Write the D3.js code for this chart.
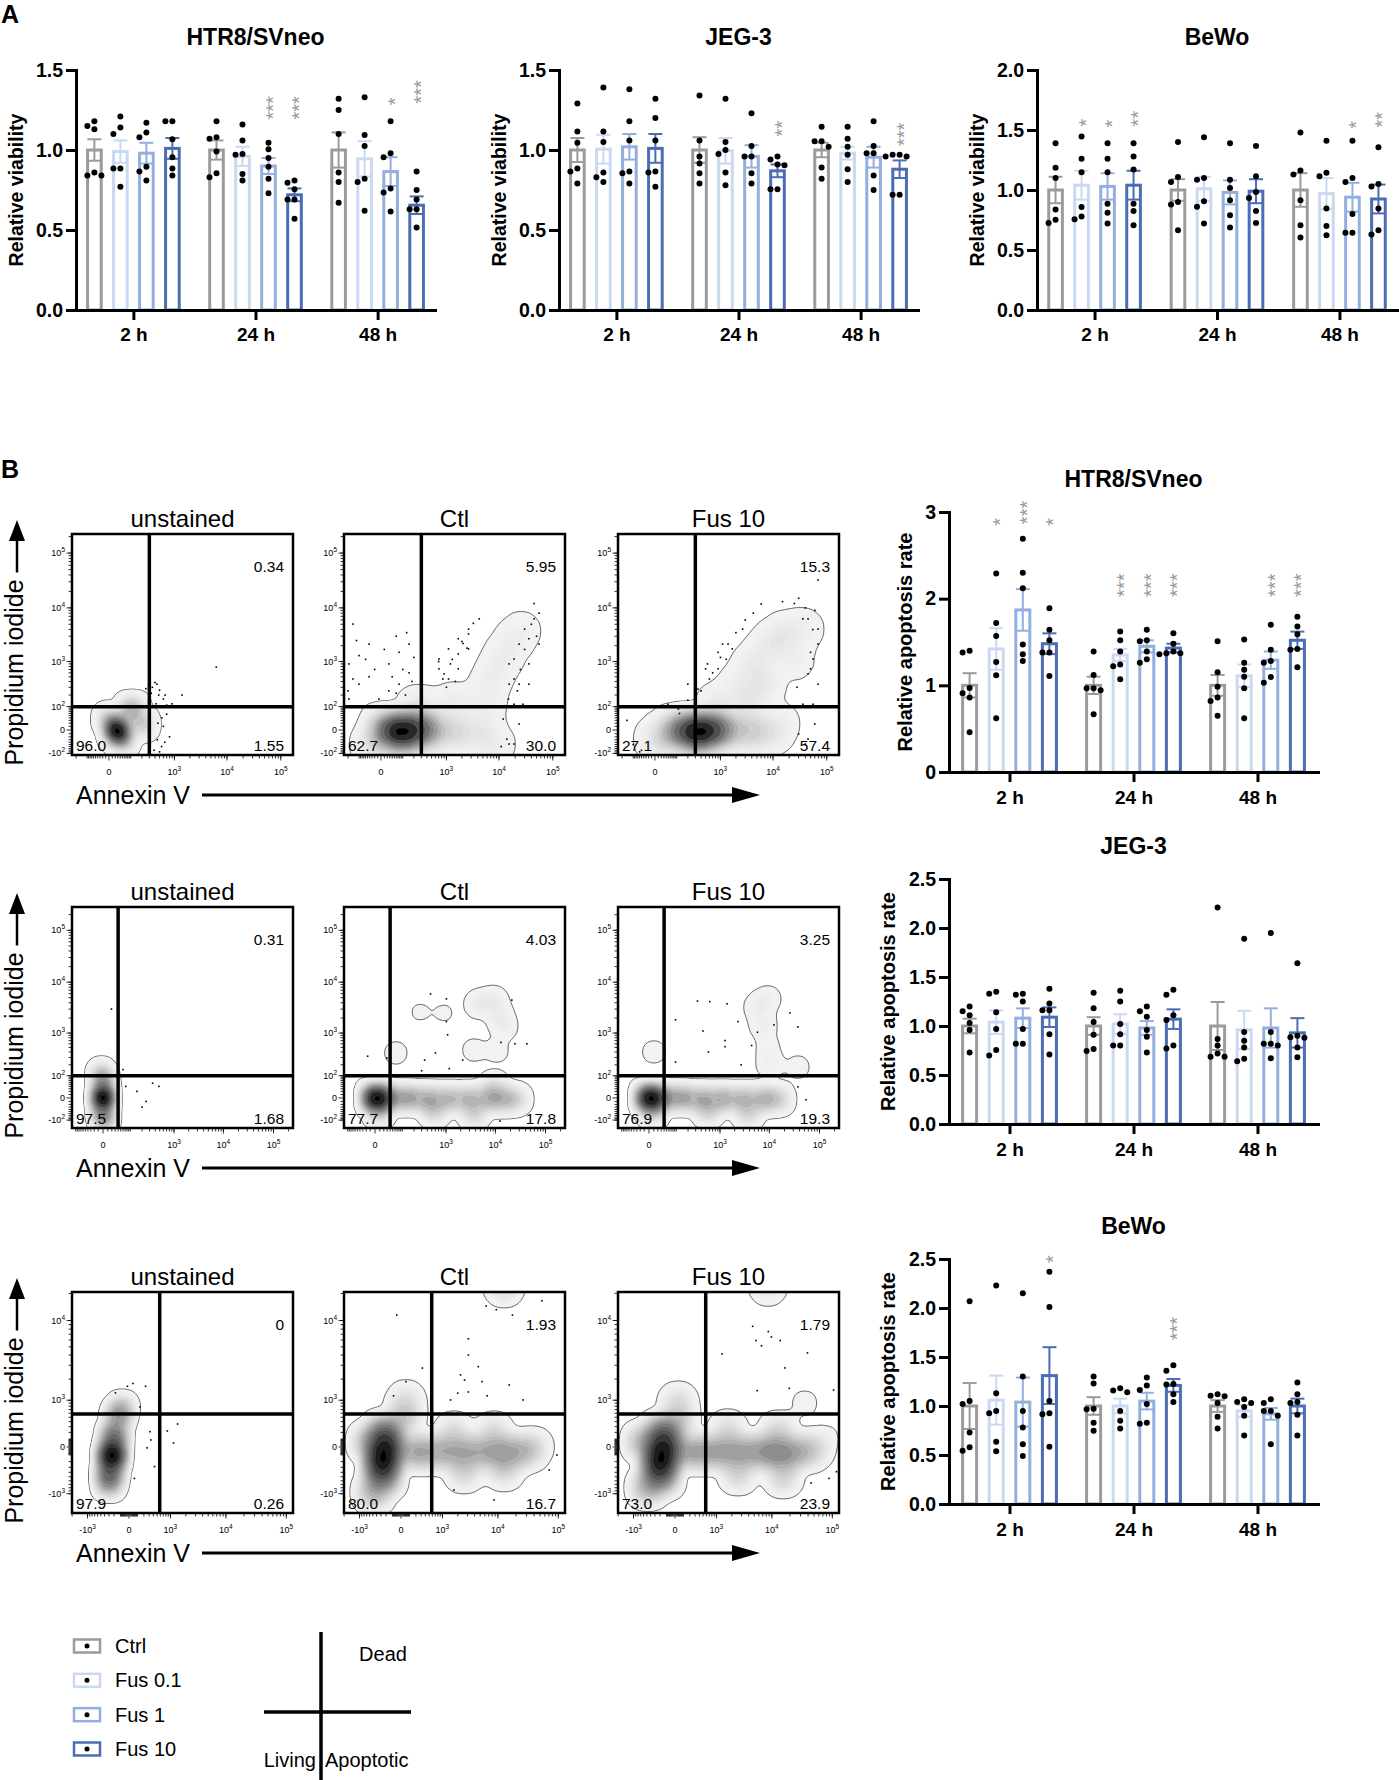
<!DOCTYPE html>
<html>
<head>
<meta charset="utf-8">
<script src="https://cdn.jsdelivr.net/npm/d3@7"></script>
<style>
  body { margin: 0; background: #fff; }
  svg { display: block; }
</style>
</head>
<body>
<svg id="fig" width="1399" height="1780"></svg>
<script>
'use strict';

// ---------- shared categories ----------
const times = ['2 h', '24 h', '48 h'];
const groups = ['Ctrl', 'Fus 0.1', 'Fus 1', 'Fus 10'];

// ---------- A: relative viability ----------
const viaHtr8Mean = [[1.00, 0.99, 0.98, 1.01], [1.00, 0.96, 0.90, 0.72], [1.00, 0.945, 0.865, 0.655]];
const viaHtr8Sem = [[0.067, 0.07, 0.065, 0.065], [0.06, 0.06, 0.05, 0.04], [0.11, 0.11, 0.09, 0.055]];
const viaHtr8Dots = [
  [[1.15, 1.18, 1.13, 0.86, 0.84, 0.84], [1.21, 1.14, 1.10, 0.885, 0.885, 0.77], [1.17, 1.11, 1.08, 0.895, 0.865, 0.81], [1.18, 1.18, 1.067, 0.955, 0.885, 0.84]],
  [[1.18, 1.08, 1.07, 0.99, 0.855, 0.83], [1.16, 1.06, 0.97, 0.975, 0.85, 0.81], [1.045, 1.005, 0.95, 0.895, 0.82, 0.73], [0.81, 0.795, 0.755, 0.69, 0.69, 0.57]],
  [[1.32, 1.25, 1.10, 0.86, 0.80, 0.67], [1.33, 1.094, 1.025, 0.82, 0.80, 0.62], [1.18, 0.98, 0.955, 0.76, 0.735, 0.615], [0.865, 0.75, 0.69, 0.63, 0.63, 0.515]]
];
const viaHtr8Sig = [['24 h', 'Fus 1', '***', 1.19], ['24 h', 'Fus 10', '***', 1.19], ['48 h', 'Fus 1', '*', 1.28], ['48 h', 'Fus 10', '***', 1.29]];

const viaJegMean = [[1.00, 1.005, 1.02, 1.01], [1.00, 0.995, 0.96, 0.87], [1.00, 0.98, 0.955, 0.88]];
const viaJegSem = [[0.075, 0.09, 0.08, 0.09], [0.08, 0.08, 0.07, 0.04], [0.045, 0.04, 0.065, 0.055]];
const viaJegDots = [
  [[1.29, 1.115, 1.045, 0.885, 0.865, 0.79], [1.39, 1.115, 1.05, 0.86, 0.83, 0.80], [1.38, 1.18, 1.06, 0.865, 0.855, 0.79], [1.32, 1.20, 1.06, 0.865, 0.86, 0.77]],
  [[1.34, 1.06, 0.96, 0.915, 0.855, 0.79], [1.32, 1.05, 1.00, 0.975, 0.86, 0.78], [1.23, 1.025, 0.96, 0.96, 0.855, 0.79], [0.96, 0.94, 0.91, 0.905, 0.755, 0.755]],
  [[1.145, 1.055, 1.055, 1.02, 0.89, 0.82], [1.145, 1.07, 1.02, 0.97, 0.88, 0.80], [1.18, 1.025, 0.98, 0.98, 0.84, 0.75], [0.97, 0.97, 0.96, 0.96, 0.72, 0.72]]
];
const viaJegSig = [['24 h', 'Fus 10', '**', 1.085], ['48 h', 'Fus 10', '***', 1.025]];

const viaBewoMean = [[1.00, 1.04, 1.03, 1.04], [1.00, 1.01, 0.98, 0.99], [1.00, 0.97, 0.94, 0.925]];
const viaBewoSem = [[0.11, 0.12, 0.11, 0.12], [0.09, 0.10, 0.10, 0.10], [0.14, 0.13, 0.12, 0.12]];
const viaBewoDots = [
  [[1.39, 1.185, 1.10, 0.837, 0.753, 0.726], [1.446, 1.26, 1.147, 0.858, 0.78, 0.756], [1.39, 1.26, 1.147, 0.886, 0.81, 0.72], [1.39, 1.28, 1.17, 0.886, 0.825, 0.706]],
  [[1.40, 1.108, 1.066, 0.90, 0.88, 0.665], [1.44, 1.10, 1.086, 0.906, 0.86, 0.72], [1.39, 1.086, 1.017, 0.914, 0.79, 0.687], [1.366, 1.114, 0.983, 0.933, 0.825, 0.726]],
  [[1.48, 1.163, 1.13, 0.914, 0.706, 0.604], [1.41, 1.144, 1.114, 0.845, 0.70, 0.623], [1.41, 1.10, 1.066, 0.80, 0.643, 0.643], [1.357, 1.05, 1.03, 0.845, 0.665, 0.63]]
];
const viaBewoSig = [['2 h', 'Fus 0.1', '*', 1.53], ['2 h', 'Fus 1', '*', 1.52], ['2 h', 'Fus 10', '**', 1.53], ['48 h', 'Fus 1', '*', 1.51], ['48 h', 'Fus 10', '**', 1.52]];

// ---------- B: relative apoptosis rate ----------
const apoHtr8Mean = [[1.00, 1.42, 1.87, 1.48], [1.00, 1.35, 1.45, 1.43], [1.00, 1.11, 1.29, 1.52]];
const apoHtr8Sem = [[0.14, 0.24, 0.24, 0.12], [0.10, 0.07, 0.07, 0.05], [0.12, 0.13, 0.10, 0.10]];
const apoHtr8Dots = [
  [[1.38, 1.40, 0.97, 0.91, 0.86, 0.46], [2.29, 1.72, 1.57, 1.27, 1.115, 0.62], [2.69, 2.30, 2.12, 1.47, 1.36, 1.28], [1.89, 1.64, 1.52, 1.38, 1.38, 1.107]],
  [[1.39, 1.12, 0.965, 0.965, 0.944, 0.667], [1.62, 1.52, 1.39, 1.24, 1.22, 1.07], [1.64, 1.52, 1.51, 1.39, 1.30, 1.26], [1.60, 1.48, 1.39, 1.37, 1.37, 1.36]],
  [[1.51, 1.15, 0.985, 0.86, 0.82, 0.65], [1.53, 1.26, 1.18, 1.10, 0.965, 0.62], [1.70, 1.41, 1.28, 1.26, 1.095, 1.03], [1.79, 1.68, 1.59, 1.42, 1.41, 1.21]]
];
const apoHtr8Sig = [['2 h', 'Fus 0.1', '*', 2.84], ['2 h', 'Fus 1', '***', 2.86], ['2 h', 'Fus 10', '*', 2.84],
  ['24 h', 'Fus 0.1', '***', 2.02], ['24 h', 'Fus 1', '***', 2.02], ['24 h', 'Fus 10', '***', 2.02],
  ['48 h', 'Fus 1', '***', 2.02], ['48 h', 'Fus 10', '***', 2.02]];

const apoJegMean = [[1.00, 1.04, 1.08, 1.09], [1.00, 1.02, 0.98, 1.07], [1.00, 0.96, 0.98, 0.93]];
const apoJegSem = [[0.075, 0.12, 0.10, 0.10], [0.09, 0.10, 0.07, 0.10], [0.245, 0.195, 0.20, 0.15]];
const apoJegDots = [
  [[1.20, 1.15, 1.11, 1.03, 0.96, 0.73], [1.35, 1.33, 1.14, 0.97, 0.755, 0.70], [1.33, 1.32, 1.25, 0.97, 0.82, 0.82], [1.38, 1.23, 1.16, 1.16, 0.915, 0.71]],
  [[1.34, 1.18, 1.04, 0.91, 0.765, 0.745], [1.36, 1.25, 1.02, 0.915, 0.80, 0.80], [1.20, 1.15, 1.095, 0.96, 0.89, 0.73], [1.37, 1.32, 1.11, 1.06, 0.80, 0.77]],
  [[2.21, 0.867, 0.80, 0.72, 0.687, 0.687], [1.89, 0.94, 0.85, 0.78, 0.667, 0.64], [1.95, 0.94, 0.82, 0.80, 0.82, 0.67], [1.64, 0.90, 0.885, 0.88, 0.78, 0.68]]
];
const apoJegSig = [];

const apoBewoMean = [[1.00, 1.06, 1.04, 1.31], [1.00, 1.00, 1.05, 1.21], [1.00, 0.95, 0.92, 1.00]];
const apoBewoSem = [[0.235, 0.25, 0.25, 0.29], [0.09, 0.075, 0.085, 0.065], [0.06, 0.06, 0.06, 0.075]];
const apoBewoDots = [
  [[2.07, 1.05, 1.02, 0.73, 0.578, 0.544], [2.23, 1.13, 0.95, 0.925, 0.636, 0.537], [2.15, 1.30, 0.95, 0.78, 0.61, 0.49], [2.37, 2.01, 1.05, 0.925, 0.915, 0.585]],
  [[1.30, 1.23, 0.966, 0.973, 0.83, 0.748], [1.157, 1.18, 1.14, 0.95, 0.85, 0.77], [1.29, 1.21, 1.163, 1.02, 0.82, 0.83], [1.415, 1.36, 1.225, 1.22, 1.12, 1.04]],
  [[1.12, 1.10, 1.105, 1.03, 0.89, 0.77], [1.04, 1.03, 1.07, 0.99, 0.90, 0.70], [1.07, 1.03, 0.95, 0.95, 0.90, 0.61], [1.24, 1.12, 1.03, 1.04, 0.91, 0.70]]
];
const apoBewoSig = [['2 h', 'Fus 10', '*', 2.46], ['24 h', 'Fus 10', '***', 1.67]];

// ---------- B: flow cytometry (Annexin V, PI), values in fluorescence units ----------
const flowTitles = ['unstained', 'Ctl', 'Fus 10'];
const r1XTicks = [0, 1e3, 1e4, 1e5];
const r1YTicks = [-1e2, 0, 1e2, 1e3, 1e4, 1e5];
const r3XTicks = [-1e3, 0, 1e3, 1e4, 1e5];
const r3YTicks = [-1e3, 0, 1e3, 1e4];
const r1Gate = [300, 100];
const r2Gate = [40, 100];
const r3Gate = [580, 580];
// quadrant percentages: [dead (upper right), living (lower left), apoptotic (lower right)]
const r1Quads = [['0.34', '96.0', '1.55'], ['5.95', '62.7', '30.0'], ['15.3', '27.1', '57.4']];
const r2Quads = [['0.31', '97.5', '1.68'], ['4.03', '77.7', '17.8'], ['3.25', '76.9', '19.3']];
const r3Quads = [['0', '97.9', '0.26'], ['1.93', '80.0', '16.7'], ['1.79', '73.0', '23.9']];

// population centres [annexin, PI, weight]
const r1UnstSeeds = [[26, 0, 10], [108, 85, 3], [48, -28, 3], [200, 17, 2], [3, 35, 2]];
const r1CtlSeeds = [[101, 0, 14], [26, 0, 8], [264, 0, 8], [101, -28, 5], [438, 0, 6], [1410, -5, 3], [4270, -11, 1.5],
  [9, 2.5, 3], [-23, -48, 2], [264, 85, 2], [1410, 117, 1.2], [5280, 85, 1], [6560, 350, 0.9], [10090, 900, 0.9],
  [15460, 1960, 0.8], [25800, 3740, 0.7], [8170, -48, 0.9]];
const r1FusSeeds = [[344, 0, 14], [150, 0, 8], [700, 0, 8], [344, -28, 5], [1100, 0, 7], [3420, -2.5, 4], [76, -5, 4],
  [9, -28, 2], [8170, -11, 1.5], [12500, 17, 1], [3420, 117, 1.5], [6560, 350, 1.5], [4270, 900, 1.2], [8170, 1960, 1.2],
  [15460, 3300, 1.3], [36000, 4070, 0.9], [23700, 1120, 0.9], [900, 117, 1.3], [2190, 350, 0.9]];
const r2UnstSeeds = [[0, 0, 10], [0, 61, 3], [0, -62, 3], [-3, 131, 1], [3, -107, 1]];
const r2CtlSeeds = [[0, 0, 14], [36, 0, 6], [151, 0, 4], [437, -3, 3.5], [1150, -3, 3], [2945, -3, 3], [7440, -3, 3],
  [14840, -3, 2.5], [25760, -3, 1.5], [8, -51, 2], [560, -51, 1.5], [3710, -62, 1.5], [9350, 38, 1.2],
  [4680, 3780, 0.6], [9350, 4530, 0.5], [11800, 2300, 0.5], [14840, 1330, 0.4], [275, 2620, 0.15], [910, 2520, 0.15],
  [3710, 440, 0.25], [10760, 420, 0.25], [64, 380, 0.25]];
const r2FusSeeds = [[0, 0, 14], [36, 0, 6], [151, 0, 4], [437, -3, 3.5], [1150, -3, 3.5], [2945, -3, 3], [7440, -3, 3],
  [14840, -3, 2], [8, -51, 2], [560, -51, 1.5], [3710, -62, 1.5], [5900, 3300, 0.45], [7440, 1460, 0.45], [9350, 4750, 0.35],
  [9350, 515, 0.25], [10200, 200, 0.4], [10, 400, 0.25], [37000, 175, 0.25]];
const r3UnstSeeds = [[-238, -101, 10], [-202, 129, 4], [-136, 506, 2], [-277, -393, 4], [-298, -685, 2], [-80, 777, 1]];
const r3CtlSeeds = [[-235, -101, 14], [-300, -300, 8], [-180, 80, 7], [-235, 206, 5], [-235, -506, 5], [-470, -940, 3],
  [-622, 60, 3], [32, 506, 2], [55, 1010, 1], [168, -60, 3.5], [655, -60, 3], [1690, -60, 3], [3880, -60, 3], [8590, -60, 3],
  [15370, -60, 2.5], [27200, -60, 2], [39700, 0, 1], [2600, -393, 1.5], [12670, -351, 1.5], [1690, 206, 1.2],
  [8590, 206, 1.2], [12670, 23500, 1.2]];
const r3FusSeeds = [[-167, -101, 14], [-230, -300, 8], [-120, 80, 7], [-167, 206, 5], [-167, -506, 5], [-470, -790, 3],
  [-622, 60, 3], [32, 934, 1.2], [32, 393, 2], [168, -60, 3.5], [655, -60, 3.5], [1690, -60, 3.5], [3880, -60, 3.5],
  [8590, -60, 4], [15370, -87, 3.5], [27200, -60, 2.5], [48200, -35, 1.5], [2600, -436, 1.5], [15370, -506, 1.5],
  [1690, 240, 1.2], [12670, 206, 1.5], [8590, 23500, 0.8], [35000, 900, 0.25], [80000, 120, 0.2]];

// single events outside the contours [annexin, PI]
const r1UnstDots = [[438, 350], [500, 260], [600, 160], [520, 100], [700, 57], [600, 10], [450, -30], [550, -60], [900, 120],
  [1410, 200], [800, -20], [350, 300], [250, 280], [300, 330], [6300, 780], [380, -80], [650, 200],
  [480, 200], [560, 40], [420, 120], [640, -40], [500, -90], [400, 380], [330, 220], [700, 110], [460, 20]];
const r1CtlDots = [[-190, 900], [-101, 350], [-43, 2140], [-6, 160], [26, 900], [76, 350], [151, 2140], [-190, 160], [-101, 1300],
  [-43, 500], [26, 250], [76, 1500], [151, 600], [-150, 5040], [60, 3000], [120, 200], [-20, 700], [200, 1200],
  [-150, 450], [-60, 1100], [10, 1700], [100, 700], [180, 400], [-200, 250], [40, 500], [130, 3500], [-120, 2500], [60, 220],
  [900, 570], [1700, 1400], [2680, 3300], [1200, 900], [2000, 2400], [1500, 400], [2500, 1800], [1000, 300], [700, 1000],
  [710, 720], [710, 1120], [1100, 1740], [1100, 450], [1700, 2700], [1700, 720], [2680, 4070], [2680, 1740], [4270, 6290],
  [1300, 1100], [2100, 2200], [850, 450], [3300, 5200],
  [19100, 1120], [36000, 2700], [19100, 450], [15000, 160], [12000, 35], [14000, -28], [25000, 700], [40000, 5000],
  [55600, 8000], [30000, 1700], [11000, -60], [22000, 250], [45000, 12000], [50000, 3000],
  [15460, 900], [23700, 2140], [15460, 350], [23700, 350], [36000, 900], [19100, 117], [23700, 17], [15460, -48],
  [55600, 2140], [36000, 350], [28000, 117], [19100, -48], [45000, 6290], [30000, 4070]];
const r1FusDots = [[48, 117], [200, 350], [548, 900], [1410, 2140], [900, 1500], [300, 180], [120, 60], [700, 600], [1000, 1200],
  [400, 250], [2000, 3500], [3000, 6000], [44900, 6290], [69000, 2140], [44900, 570], [36000, 117], [30000, -11], [40000, -48],
  [60000, 9000], [50000, 1500], [28000, 300], [25000, 12000], [55000, 4000], [6000, 11800], [15000, 13000], [30000, 15000],
  [40000, 10000], [69000, 32200], [-100, -50], [-150, 30], [-60, -90],
  [112, 85], [344, 274], [900, 720], [1700, 1740], [2680, 4070], [200, 150], [600, 450], [1300, 1100], [500, 720], [1100, 2140],
  [4270, 8000], [55600, 1120], [69000, 350], [55600, 117], [44900, -28], [69000, 4070], [36000, 6290], [60000, 17], [50000, 720]];
const r2UnstDots = [[74, 40], [150, 20], [250, -10], [480, 40], [350, 55], [200, -30], [19, 3000], [120, 100], [60, 150]];
const r2CtlDots = [[472, 5900], [1020, 4750], [1020, 1700], [1080, 920], [21300, 4500], [12900, 640], [24500, 600], [42600, 600],
  [350, 260], [600, 380], [2200, 260], [1170, 160], [300, 140], [12300, -107], [29, 290], [-16, 320]];
const r2FusDots = [[95, 1850], [330, 4300], [610, 4200], [1400, 3800], [2330, 1700], [437, 1100], [1270, 700], [5760, 1040],
  [12300, 1460], [25760, 2520], [37000, 1330], [95, 235], [570, 400], [1270, 520], [4400, 550], [2700, 200], [37000, 38], [54000, -5]];
const r3UnstDots = [[-176, 1290], [-16, 1600], [42, 1750], [230, 1600], [136, 777], [318, 211], [340, 87], [260, -10], [860, 223],
  [1390, 351], [1160, 48], [430, -287], [60, -540]];
const r3CtlDots = [[-46, 11500], [330, 2770], [3100, 6200], [3100, 4000], [4630, 2890], [2240, 2270], [2650, 1940], [5370, 1850],
  [15500, 1670], [1990, 1280], [3100, 1330], [6580, 1170], [1460, 1010], [26300, 1010], [17500, 11500], [9400, 13200],
  [53800, 16600], [6340, 14500], [95000, -101], [71000, -351], [1690, -870], [8590, -1240], [55, 1850], [-86, 1170]];
const r3FusDots = [[4700, 8600], [8700, 7500], [5370, 5920], [9800, 6500], [6670, 5150], [13800, 5920], [1300, 4120], [39000, 4240],
  [16500, 2780], [5620, 1390], [19500, 1500], [105000, 1420], [117000, -387], [88000, -540], [44700, -660]];

// ---------- drawing ----------
const FONT = '"Liberation Sans", Arial, Helvetica, sans-serif';
const groupColors = ['#9b9b9b', '#cad9f2', '#92afe0', '#4b6db5'];
const svg = d3.select('#fig').attr('font-family', FONT);

// simple non-overlapping horizontal spread for the replicate points
function swarm(vals, y) {
  const placed = [], out = [];
  vals.map((v, i) => [v, i]).sort((a, b) => b[0] - a[0]).forEach(([v, i]) => {
    const py = y(v);
    for (const dx of [0, -7, 7, -14, 14]) {
      if (placed.every(p => Math.hypot(p[0] - dx, p[1] - py) >= 6.4)) {
        placed.push([dx, py]); out[i] = dx; return;
      }
    }
    out[i] = 0;
  });
  return out;
}

function barChart(o) {
  const g = svg.append('g');
  const x = d3.scalePoint().domain(times).range([o.x0, o.x1]).padding(o.pad);
  const xi = d3.scaleBand().domain(groups).range([-o.half, o.half]).paddingInner(0.36).paddingOuter(0.18);
  const y = d3.scaleLinear().domain([0, o.max]).range([o.yBot, o.yTop]);
  const bw = xi.bandwidth();
  const rows = times.flatMap((t, ti) => groups.map((gn, gi) => ({
    cx: x(t) + xi(gn) + bw / 2, color: groupColors[gi],
    mean: o.mean[ti][gi], sem: o.sem[ti][gi], dots: o.dots[ti][gi]
  })));

  g.selectAll('rect.bar').data(rows).join('rect')
    .attr('x', d => d.cx - (bw - 3) / 2).attr('y', d => y(d.mean))
    .attr('width', bw - 3).attr('height', d => y(0) - y(d.mean))
    .attr('fill', '#fff').attr('stroke', d => d.color).attr('stroke-width', 3);

  const eb = g.selectAll('g.eb').data(rows).join('g').attr('stroke', d => d.color).attr('stroke-width', 2);
  eb.append('line').attr('x1', d => d.cx).attr('x2', d => d.cx)
    .attr('y1', d => y(d.mean - d.sem)).attr('y2', d => y(d.mean + d.sem));
  eb.append('line').attr('x1', d => d.cx - 7).attr('x2', d => d.cx + 7)
    .attr('y1', d => y(d.mean + d.sem)).attr('y2', d => y(d.mean + d.sem));
  eb.append('line').attr('x1', d => d.cx - 7).attr('x2', d => d.cx + 7)
    .attr('y1', d => y(d.mean - d.sem)).attr('y2', d => y(d.mean - d.sem));

  const pts = rows.flatMap(d => {
    const off = swarm(d.dots, y);
    return d.dots.map((v, i) => ({ x: d.cx + off[i], y: y(v) }));
  });
  g.selectAll('circle.pt').data(pts).join('circle')
    .attr('cx', d => d.x).attr('cy', d => d.y).attr('r', 3).attr('fill', '#000');

  // significance marks, stacked vertically as in the original
  g.selectAll('text.star').data(o.sig).join('text')
    .attr('transform', ([t, gn, , lev]) => `translate(${x(t) + xi(gn) + bw / 2 + 11},${y(lev)}) rotate(-90)`)
    .attr('font-size', 20).attr('fill', '#9a9a9a').text(d => d[2]);

  const styleAxis = a => {
    a.attr('font-family', FONT).attr('font-size', 19.5).attr('font-weight', 'bold');
    a.select('.domain').attr('stroke-width', 3).attr('stroke-linecap', 'square');
    a.selectAll('.tick line').attr('stroke-width', 3);
    a.selectAll('.tick text').attr('fill', '#000');
  };
  g.append('g').attr('transform', `translate(${o.x0},0)`)
    .call(d3.axisLeft(y).tickValues(o.ticks).tickFormat(o.fmt).tickSize(10).tickSizeOuter(0).tickPadding(3))
    .call(styleAxis);
  g.append('g').attr('transform', `translate(0,${o.yBot})`)
    .call(d3.axisBottom(x).tickSize(10).tickSizeOuter(0).tickPadding(o.xpad))
    .call(styleAxis)
    .call(a => a.selectAll('.tick text').attr('font-size', 19));

  g.append('text').attr('x', (o.x0 + o.x1) / 2).attr('y', o.yTop - 25)
    .attr('text-anchor', 'middle').attr('font-size', 23).attr('font-weight', 'bold').text(o.title);
  g.append('text').attr('transform', `translate(${o.x0 - o.lab},${(o.yTop + o.yBot) / 2}) rotate(-90)`)
    .attr('dy', '0.35em').attr('text-anchor', 'middle').attr('font-size', o.labSize).attr('font-weight', 'bold').text(o.ylabel);
}

const fmt1 = d3.format('.1f');
const viaCharts = [
  { title: 'HTR8/SVneo', x0: 76, x1: 435, mean: viaHtr8Mean, sem: viaHtr8Sem, dots: viaHtr8Dots, sig: viaHtr8Sig, max: 1.5, ticks: [0, 0.5, 1, 1.5] },
  { title: 'JEG-3', x0: 559, x1: 918, mean: viaJegMean, sem: viaJegSem, dots: viaJegDots, sig: viaJegSig, max: 1.5, ticks: [0, 0.5, 1, 1.5] },
  { title: 'BeWo', x0: 1037, x1: 1397, mean: viaBewoMean, sem: viaBewoSem, dots: viaBewoDots, sig: viaBewoSig, max: 2.0, ticks: [0, 0.5, 1, 1.5, 2] }
];
viaCharts.forEach(c => barChart(Object.assign({
  yTop: 70, yBot: 310, pad: 0.47, half: 52, xpad: 8, fmt: fmt1,
  ylabel: 'Relative viability', lab: 60, labSize: 19.5
}, c)));

const apoCharts = [
  { title: 'HTR8/SVneo', yTop: 512, yBot: 772, mean: apoHtr8Mean, sem: apoHtr8Sem, dots: apoHtr8Dots, sig: apoHtr8Sig, max: 3, ticks: [0, 1, 2, 3], fmt: d3.format('d'), lab: 44 },
  { title: 'JEG-3', yTop: 879, yBot: 1124, mean: apoJegMean, sem: apoJegSem, dots: apoJegDots, sig: apoJegSig, max: 2.5, ticks: [0, 0.5, 1, 1.5, 2, 2.5], fmt: fmt1, lab: 61 },
  { title: 'BeWo', yTop: 1259, yBot: 1504, mean: apoBewoMean, sem: apoBewoSem, dots: apoBewoDots, sig: apoBewoSig, max: 2.5, ticks: [0, 0.5, 1, 1.5, 2, 2.5], fmt: fmt1, lab: 61 }
];
apoCharts.forEach(c => barChart(Object.assign({
  x0: 949, x1: 1318, pad: 0.488, half: 53.2, xpad: 9,
  ylabel: 'Relative apoptosis rate', labSize: 20
}, c)));

// ---------- flow plots ----------
const FS = 221;
const flowLefts = [72, 344, 618];
const flowRows = [
  { top: 534, xc: 65, xd: [-250, 168600], yc: 60, yd: [-111, 222800], gate: r1Gate, xt: r1XTicks, yt: r1YTicks,
    seeds: [r1UnstSeeds, r1CtlSeeds, r1FusSeeds], dots: [r1UnstDots, r1CtlDots, r1FusDots], quads: r1Quads, bw: [7, 10, 10], gamma: 3.2 },
  { top: 907, xc: 40, xd: [-126, 244800], yc: 60, yd: [-167, 280500], gate: r2Gate, xt: r1XTicks, yt: r1YTicks,
    seeds: [r2UnstSeeds, r2CtlSeeds, r2FusSeeds], dots: [r2UnstDots, r2CtlDots, r2FusDots], quads: r2Quads, bw: [6, 7, 7], gamma: 2.7 },
  { top: 1292, xc: 265, xd: [-2010, 128800], yc: 460, yd: [-1890, 20700], gate: r3Gate, xt: r3XTicks, yt: r3YTicks,
    seeds: [r3UnstSeeds, r3CtlSeeds, r3FusSeeds], dots: [r3UnstDots, r3CtlDots, r3FusDots], quads: r3Quads, bw: [7, 9, 9], gamma: 2.2 }
];

function decadeLabel(sel, v) {
  if (v === 0) { sel.text('0'); return; }
  const e = Math.round(Math.log10(Math.abs(v)));
  sel.append('tspan').text((v < 0 ? '-' : '') + '10');
  sel.append('tspan').attr('dy', -4).attr('font-size', 6.5).text(e);
}

function minorTicks(dom) {
  const out = [];
  for (let d = 1; d <= 5; d++) for (let m = 1; m <= 9; m++) for (const s of [1, -1]) {
    const v = s * m * Math.pow(10, d);
    if (v > dom[0] && v < dom[1]) out.push(v);
  }
  return out;
}

let clipId = 0;
function flowPlot(row, col) {
  const left = flowLefts[col], top = row.top;
  const xs = d3.scaleSymlog().constant(row.xc).domain(row.xd).range([0, FS]);
  const ys = d3.scaleSymlog().constant(row.yc).domain(row.yd).range([FS, 0]);
  const g = svg.append('g').attr('transform', `translate(${left},${top})`);
  const id = 'clip' + (clipId++);
  g.append('clipPath').attr('id', id).append('rect').attr('width', FS).attr('height', FS);
  const body = g.append('g').attr('clip-path', `url(#${id})`);

  const seeds = row.seeds[col];
  const dens = d3.contourDensity().x(d => xs(d[0])).y(d => ys(d[1])).weight(d => d[2])
    .size([FS, FS]).cellSize(2).bandwidth(row.bw[col]);
  const probe = dens.thresholds(200)(seeds).filter(c => c.coordinates.length);
  const maxV = probe[probe.length - 1].value;
  const n = 22, low = 0.006;
  const thr = d3.range(n).map(i => maxV * Math.pow(low, 1 - i / (n - 1)) * (i === n - 1 ? 0.97 : 1));
  const contours = dens.thresholds(thr)(seeds);
  body.selectAll('path').data(contours).join('path')
    .attr('d', d3.geoPath())
    .attr('fill', (d, i) => d3.interpolateGreys(0.1 + 0.9 * Math.pow(i / (n - 1), row.gamma)))
    .attr('stroke', (d, i) => i === 0 ? '#3a3a3a' : 'none').attr('stroke-width', 0.8);

  body.selectAll('rect.ev').data(row.dots[col]).join('rect')
    .attr('x', d => xs(d[0]) - 0.8).attr('y', d => ys(d[1]) - 0.8)
    .attr('width', 1.6).attr('height', 1.6).attr('fill', '#000');

  // quadrant gates
  g.append('line').attr('x1', xs(row.gate[0])).attr('x2', xs(row.gate[0])).attr('y1', 0).attr('y2', FS)
    .attr('stroke', '#000').attr('stroke-width', 3.5);
  g.append('line').attr('x1', 0).attr('x2', FS).attr('y1', ys(row.gate[1])).attr('y2', ys(row.gate[1]))
    .attr('stroke', '#000').attr('stroke-width', 3.5);
  g.append('rect').attr('width', FS).attr('height', FS).attr('fill', 'none').attr('stroke', '#000').attr('stroke-width', 2.5);

  // axes ticks
  const tk = g.append('g').attr('stroke', '#000').attr('stroke-width', 0.8);
  tk.selectAll('line.xm').data(minorTicks(row.xd)).join('line')
    .attr('x1', d => xs(d)).attr('x2', d => xs(d)).attr('y1', FS + 1).attr('y2', FS + 3.5);
  tk.selectAll('line.xM').data(row.xt).join('line')
    .attr('x1', d => xs(d)).attr('x2', d => xs(d)).attr('y1', FS + 1).attr('y2', FS + 5.5);
  tk.selectAll('line.ym').data(minorTicks(row.yd)).join('line')
    .attr('y1', d => ys(d)).attr('y2', d => ys(d)).attr('x1', -1).attr('x2', -3.5);
  tk.selectAll('line.yM').data(row.yt).join('line')
    .attr('y1', d => ys(d)).attr('y2', d => ys(d)).attr('x1', -1).attr('x2', -5.5);

  g.selectAll('text.xl').data(row.xt).join('text')
    .attr('x', d => xs(d)).attr('y', FS + 20).attr('text-anchor', 'middle').attr('font-size', 9)
    .each(function (d) { decadeLabel(d3.select(this), d); });
  g.selectAll('text.yl').data(row.yt).join('text')
    .attr('x', -7).attr('y', d => ys(d) + 3).attr('text-anchor', 'end').attr('font-size', 9)
    .each(function (d) { decadeLabel(d3.select(this), d); });

  const q = row.quads[col];
  g.append('text').attr('x', FS - 9).attr('y', 38).attr('text-anchor', 'end').attr('font-size', 15.5).text(q[0]);
  g.append('text').attr('x', 4).attr('y', FS - 4).attr('font-size', 15.5).text(q[1]);
  g.append('text').attr('x', FS - 9).attr('y', FS - 4).attr('text-anchor', 'end').attr('font-size', 15.5).text(q[2]);

  g.append('text').attr('x', FS / 2).attr('y', -7).attr('text-anchor', 'middle').attr('font-size', 24).text(flowTitles[col]);
}

flowRows.forEach(row => {
  [0, 1, 2].forEach(col => flowPlot(row, col));
  const top = row.top, bot = row.top + FS;
  // Propidium iodide arrow
  const cy = top + FS / 2 + 28;
  svg.append('text').attr('transform', `translate(23,${cy}) rotate(-90)`)
    .attr('text-anchor', 'middle').attr('font-size', 25).text('Propidium iodide');
  const tip = top - 14;
  svg.append('line').attr('x1', 17).attr('x2', 17).attr('y1', cy - 100).attr('y2', tip + 18)
    .attr('stroke', '#000').attr('stroke-width', 2.5);
  svg.append('path').attr('d', `M${17 - 8},${tip + 21}L17,${tip}L${17 + 8},${tip + 21}Z`).attr('fill', '#000');
  // Annexin V arrow
  const ay = bot + 40;
  svg.append('text').attr('x', 76).attr('y', ay + 9).attr('font-size', 25).text('Annexin V');
  svg.append('line').attr('x1', 202).attr('x2', 735).attr('y1', ay).attr('y2', ay)
    .attr('stroke', '#000').attr('stroke-width', 3);
  svg.append('path').attr('d', `M732,${ay - 8}L760,${ay}L732,${ay + 8}Z`).attr('fill', '#000');
});

// ---------- panel letters ----------
svg.append('text').attr('x', 1).attr('y', 23).attr('font-size', 25).attr('font-weight', 'bold').text('A');
svg.append('text').attr('x', 1).attr('y', 478).attr('font-size', 25).attr('font-weight', 'bold').text('B');

// ---------- legend ----------
const leg = svg.append('g');
const legY = d3.scalePoint().domain(groups).range([1646, 1749]);
leg.selectAll('rect').data(groups).join('rect')
  .attr('x', 74).attr('y', d => legY(d) - 6.5).attr('width', 26).attr('height', 13)
  .attr('fill', '#fff').attr('stroke', (d, i) => groupColors[i]).attr('stroke-width', 2.5);
leg.selectAll('circle').data(groups).join('circle')
  .attr('cx', 87).attr('cy', d => legY(d)).attr('r', 2.5).attr('fill', '#000');
leg.selectAll('text').data(groups).join('text')
  .attr('x', 115).attr('y', d => legY(d) + 7).attr('font-size', 20).text(d => d);

// quadrant key
const key = svg.append('g').attr('stroke', '#000').attr('stroke-width', 3.5);
key.append('line').attr('x1', 321).attr('x2', 321).attr('y1', 1632).attr('y2', 1780);
key.append('line').attr('x1', 264).attr('x2', 411).attr('y1', 1712).attr('y2', 1712);
svg.append('text').attr('x', 383).attr('y', 1661).attr('text-anchor', 'middle').attr('font-size', 20).text('Dead');
svg.append('text').attr('x', 316).attr('y', 1767).attr('text-anchor', 'end').attr('font-size', 20).text('Living');
svg.append('text').attr('x', 325).attr('y', 1767).attr('font-size', 20).text('Apoptotic');
</script>
</body>
</html>
